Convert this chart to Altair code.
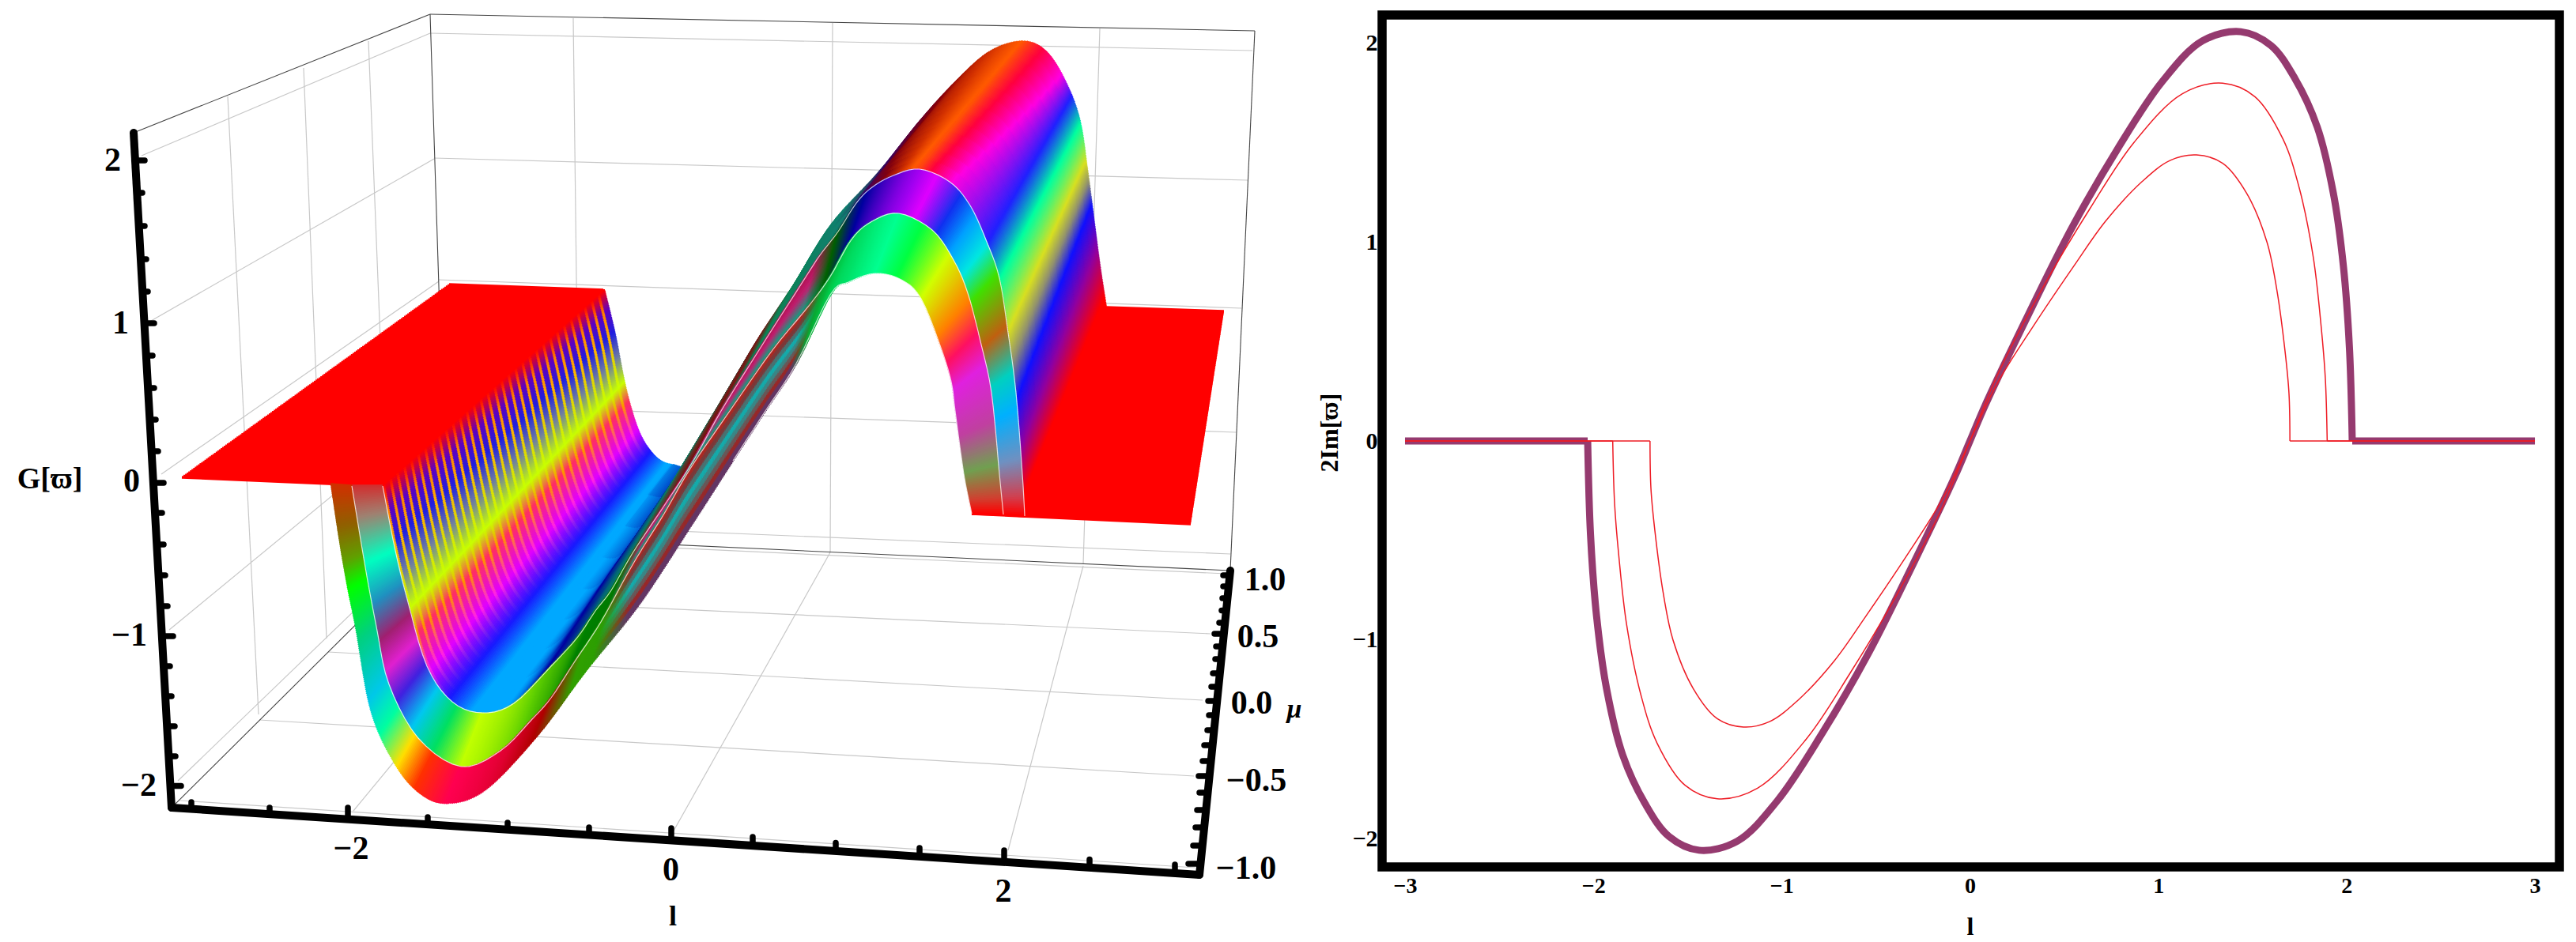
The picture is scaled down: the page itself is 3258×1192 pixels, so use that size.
import altair as alt
import numpy as np
import pandas as pd

alt.data_transformers.disable_max_rows()

SERIF = "Liberation Serif"
PURPLE = "#953a6f"
RED = "#ee1c25"

# ---------- right panel: profiles ----------
OUTER_L = [-2.03,-2.015,-1.983,-1.93,-1.844,-1.726,-1.598,-1.438,-1.235,-1.021,-0.786,-0.54,-0.295,-0.081,0,0.081,0.295,0.54,0.786,1.021,1.235,1.438,1.598,1.726,1.844,1.93,1.983,2.015,2.03]
OUTER_G = [0,-0.47,-0.88,-1.245,-1.58,-1.823,-1.99,-2.059,-2.013,-1.808,-1.473,-1.07,-0.606,-0.18,0,0.18,0.606,1.07,1.473,1.808,2.013,2.059,1.99,1.823,1.58,1.245,0.88,0.47,0]
MIDDLE_L = [-1.897,-1.887,-1.865,-1.823,-1.748,-1.662,-1.513,-1.342,-1.128,-0.872,-0.637,-0.38,-0.145,0,0.145,0.38,0.637,0.872,1.128,1.342,1.513,1.662,1.748,1.823,1.865,1.887,1.897]
MIDDLE_G = [0,-0.316,-0.575,-0.925,-1.275,-1.519,-1.732,-1.80,-1.747,-1.503,-1.169,-0.76,-0.33,0,0.33,0.76,1.169,1.503,1.747,1.80,1.732,1.519,1.275,0.925,0.575,0.316,0]
INNER_L = [-1.699,-1.694,-1.673,-1.63,-1.577,-1.47,-1.342,-1.203,-1.064,-0.915,-0.722,-0.551,-0.338,-0.145,0,0.145,0.338,0.551,0.722,0.915,1.064,1.203,1.342,1.47,1.577,1.63,1.673,1.694,1.699]
INNER_G = [0,-0.24,-0.453,-0.758,-1.001,-1.245,-1.397,-1.439,-1.412,-1.306,-1.108,-0.879,-0.58,-0.29,0,0.29,0.58,0.879,1.108,1.306,1.412,1.439,1.397,1.245,1.001,0.758,0.453,0.24,0]
X_TICKS = [-3,-2,-1,0,1,2,3]
Y_TICKS = [-2,-1,0,1,2]

# ---------- left panel: the box and surface as projected on the page ----------
RIB1 = {"wall":[(418,613),(429,686),(439,743),(450,797),(469,900),(498,965),(529,1003),(564,1017)],
        "rise":[(613,1000),(680,930),(740,850),(807,767),(873,667),(927,583),(968,520),(1007,460),(1050,373),(1073,357),(1107,346)],
        "desc":[(1140,354),(1165,378),(1190,440),(1203,483),(1208,520),(1219,600),(1229,650)]}
RIB2 = {"wall":[(445,615),(461,712),(476,793),(492,866),(529,934),(583,970)],
        "rise":[(633,950),(673,910),(697,883),(727,837),(760,787),(793,727),(813,693),(840,650),(873,593),(923,520),(977,443),(1023,387),(1050,350),(1077,303),(1103,280),(1137,270)],
        "desc":[(1179,291),(1206,329),(1224,371),(1240,432),(1254,497),(1264,600),(1269,651)]}
RIB3 = {"wall":[(484,615),(500,697),(516,762),(540,843),(572,888),(610,902)],
        "rise":[(650,890),(697,843),(730,807),(753,773),(773,747),(800,700),(840,640),(877,583),(912,520),(960,443),(1013,360),(1037,323),(1060,293),(1083,257),(1103,237),(1130,222),(1163,214)],
        "desc":[(1201,230),(1227,260),(1248,306),(1264,352),(1275,421),(1285,497),(1293,600),(1296,653)]}
RIB4 = {"wall":[(765,367),(778,421),(789,478),(799,518),(810,549),(823,570),(837,583),(853,588)],
        "rise":[(873,588),(893,550),(910,520),(953,440),(1007,357),(1053,283),(1113,217),(1167,150),(1213,100),(1253,65),(1293,52)],
        "desc":[(1322,63),(1346,99),(1365,149),(1375,214),(1383,276),(1391,337),(1399,389)]}

PLANE_L = [(230,604),(568,360),(484,615),(765,367)]
PLANE_R = [(1229,650),(1399,389),(1506,663),(1548,394)]

STOPS_C_A = [(1.00,1.00,"#ff0000"),(1.10,1.10,"#ff8000"),(1.22,1.22,"#ffb000"),(1.35,1.35,"#e0d800"),(1.48,1.48,"#c8ff00"),(1.58,1.58,"#ff9000"),(1.73,1.73,"#ff20e8"),
             (1.86,1.86,"#1818ff"),(1.96,1.96,"#00a8ff"),(2.04,1.98,"#00a8ff"),(2.12,2.04,"#0000a0"),(2.2,2.1,"#006080"),(2.3,2.2,"#108060"),(2.45,2.3,"#801010"),
             (2.6,2.38,"#108050"),(2.85,2.55,"#108070"),(2.92,2.68,"#400060"),(2.95,2.82,"#800010"),(2.975,2.94,"#d03000"),(2.99,3.0,"#ff5a00"),(3.03,3.08,"#ff0040"),(3.09,3.19,"#ff00e0"),
             (3.28,3.27,"#2020ff"),(3.38,3.37,"#00ffa0"),(3.52,3.5,"#d8e020"),(3.6,3.57,"#909070"),(3.70,3.65,"#1010ff"),(3.83,3.8,"#9000a0"),(3.95,3.97,"#ff0000"),(4.0,4.0,"#ff0000")]
STOPS_C_B = [(1.00,1.00,"#ff0000"),(1.10,1.10,"#6000c0"),(1.22,1.22,"#2020e0"),(1.35,1.35,"#7080a0"),(1.48,1.48,"#c8ff00"),(1.58,1.58,"#ff3060"),(1.73,1.73,"#e000ff"),
             (1.86,1.86,"#1818ff"),(1.96,1.96,"#00a8ff"),(2.04,1.98,"#00a8ff"),(2.12,2.04,"#0000a0")]
STOPS_B = [(1.0,"#d03030"),(1.1,"#a08070"),(1.25,"#00ffc0"),(1.38,"#2090c0"),(1.5,"#a02070"),(1.6,"#e020d0"),(1.7,"#4020e0"),(1.8,"#00c8f0"),(1.9,"#00e060"),(2.0,"#c0ff00"),
           (2.1,"#60d000"),(2.22,"#008000"),(2.85,"#006000"),(2.92,"#0000a0"),(3.0,"#a000f0"),(3.05,"#e000ff"),(3.13,"#1030f0"),(3.2,"#00a0ff"),(3.28,"#00e8e0"),(3.36,"#40e000"),
           (3.5,"#c06010"),(3.62,"#00d0c0"),(3.72,"#00b0ff"),(3.85,"#7090c0"),(3.95,"#d04050"),(4.0,"#ff0000")]
STOPS_A = [(1.0,"#d03000"),(1.12,"#906000"),(1.22,"#60a000"),(1.3,"#00ff00"),(1.45,"#00d080"),(1.62,"#00c8e8"),(1.72,"#00ffa0"),(1.82,"#ffe000"),(1.9,"#ff3000"),(2.0,"#ff0050"),
           (2.08,"#e00030"),(2.16,"#b00000"),(2.25,"#30a000"),(2.8,"#109020"),(2.93,"#00d050"),(3.0,"#00ff90"),(3.08,"#00ff40"),(3.2,"#d0ff00"),(3.35,"#ff8000"),(3.45,"#ff1060"),
           (3.55,"#e020e0"),(3.72,"#c040a0"),(3.85,"#70a050"),(3.95,"#d04030"),(4.0,"#ff0000")]
ACROSS_A = [(0,"#1060c0"),(0.12,"#b01010"),(0.55,"#10b0b0"),(0.9,"#a01010"),(1,"#c05040")]
ACROSS_B = [(0,"#10a080"),(0.5,"#c02070"),(1,"#b01050")]

GRID = [((544,42),(1584,64)),((549,200),(1578,228)),((555,354),(1570,390)),((560,512),(1563,547)),((565,660),(1556,701)),
        ((725,23),(733,680)),((1053,29),(1050,699)),((1391,36),(1370,714)),
        ((179,197),(544,42)),((191,406),(549,201)),((204,600),(555,356)),((214,797),(560,512)),((225,988),(565,660)),
        ((288,122),(327,904)),((384,86),(413,808)),((466,52),(493,732)),
        ((447,1026),(733,680)),((851,1053),(1050,699)),((1275,1076),(1370,716)),
        ((328,911),(1510,982)),((415,825),(1521,886)),((488,754),(1531,802)),((565,680),(1551,726)),((228,1013),(1512,1098))]
BOX = [((169,168),(544,18)),((544,18),(1587,39)),((1587,39),(1556,722)),((544,18),(565,676)),((217,1022),(565,676)),((565,676),(1556,722))]
AXES = [((169,168),(217,1022)),((217,1022),(1517,1107)),((1517,1107),(1556,722))]

G_TIPS = [(183,203,1),(180,244,0),(183,286,0),(185,328,0),(187,369,0),(195,409,1),(193,450,0),(195,491,0),(197,531,0),(200,571,0),(207,611,1),(205,649,0),(207,689,0),(209,728,0),(212,767,0),(219,805,1),(215,843,0),(217,881,0),(221,919,0),(222,957,0),(229,994.5,1)]
L_TIPS = [(242,1015,0),(341,1022,0),(440,1022,1),(541,1034,0),(642,1041,0),(745,1047,0),(849,1048,1),(952,1059,0),(1057,1066.5,0),(1163,1073,0),(1270,1076,1),(1378,1087.5,0),(1486,1094,0)]
MU_TIPS = [(1547,728,0),(1547,742,0),(1546,757,0),(1545,772.5,0),(1542,788,0),(1536,802,1),(1538,818,0),(1537,834,0),(1534,852,0),(1532,869,0),(1528,887,1),(1529,905,0),(1527,924,0),(1523,943,0),(1521,963,0),(1516,982,1),(1517,1003,0),(1514,1025,0),(1512,1047,0),(1509,1070,0),(1503,1093,1)]

LABELS = [("2",153,203,42),("1",163,409,42),("0",177,609,42),("\u22121",186,804,42),("\u22122",198,994,42)]
LABELS_C = [("\u22122",444,1074,42),("0",848.5,1101,42),("2",1269,1128,42),("1.0",1600,733.5,42),("0.5",1591,806,42),("0.0",1583,890,42),("\u22120.5",1589,988,42),("\u22121.0",1576,1099,42)]


def hex2rgb(h):
    return np.array([int(h[i:i+2], 16) for i in (1, 3, 5)], float)


def rgb2hex(c):
    return "#%02x%02x%02x" % tuple(int(round(min(255, max(0, v)))) for v in c)


def dense(rib):
    pts = np.array(rib["wall"] + rib["rise"] + rib["desc"], float)
    knots = [0, len(rib["wall"]) - 1, len(rib["wall"]) + len(rib["rise"]) - 1, len(pts) - 1]
    out = []
    n = 10
    for i in range(len(pts) - 1):
        p0 = pts[max(i - 1, 0)]; p1 = pts[i]; p2 = pts[i + 1]; p3 = pts[min(i + 2, len(pts) - 1)]
        for k in range(n):
            t = k / n
            out.append(0.5 * (2 * p1 + (p2 - p0) * t + (2 * p0 - 5 * p1 + 4 * p2 - p3) * t * t + (3 * p1 - p0 - 3 * p2 + p3) * t ** 3))
    out.append(pts[-1])
    return np.array(out), [k * n for k in knots]


def at_u(d, u):
    """position on a rib; u runs 1-2 wall, 2-3 rise, 3-4 descent, by arc length inside each."""
    arr, kn = d
    res = np.zeros((len(u), 2))
    for s in range(3):
        seg = arr[kn[s]:kn[s + 1] + 1]
        ds = np.r_[0, np.cumsum(np.hypot(*np.diff(seg, axis=0).T))]
        m = (u >= s + 1) & (u <= s + 2)
        f = (u[m] - s - 1) * ds[-1]
        res[m, 0] = np.interp(f, ds, seg[:, 0])
        res[m, 1] = np.interp(f, ds, seg[:, 1])
    return res


def section_len(d, s):
    arr, kn = d
    seg = arr[kn[s]:kn[s + 1] + 1]
    return np.hypot(*np.diff(seg, axis=0).T).sum()


def pick(stops, u, v):
    pos = [a + (b - a) * v for a, b, _ in stops]
    cols = [hex2rgb(c) for _, _, c in stops]
    return np.array([np.interp(u, pos, [c[i] for c in cols]) for i in range(3)])


def pick1(stops, x):
    pos = [s[0] for s in stops]
    cols = [hex2rgb(s[1]) for s in stops]
    return np.array([np.interp(x, pos, [c[i] for c in cols]) for i in range(3)])


D = [dense(r) for r in (RIB1, RIB2, RIB3, RIB4)]
rows = []


def add(x, y, x2, y2, c):
    rows.append((round(float(x), 1), round(float(y), 1), round(float(x2), 1), round(float(y2), 1), c))


# red planes
for a, b, c, d in (PLANE_L, PLANE_R):
    a, b, c, d = map(lambda p: np.array(p, float), (a, b, c, d))
    n = int(max(np.hypot(*(b - a)), np.hypot(*(d - c))) / 2.5) + 1
    for t in np.linspace(0, 1, n):
        p = a + (b - a) * t
        q = c + (d - c) * t
        add(p[0], p[1], q[0], q[1], "#ff0000")

# ribbon C: rib 3 to rib 4
for s in range(3):
    n = int(max(section_len(D[2], s), section_len(D[3], s)) / 2.5)
    us = np.linspace(s + 1, s + 2, n)
    pa = at_u(D[2], us)
    pb = at_u(D[3], us)
    for k, u in enumerate(us):
        if s == 0 and u < 1.96:
            cells = 96
        elif s == 2 or u > 2.7:
            cells = 14
        else:
            cells = 8
        for j in range(cells):
            v0 = j / cells
            v1 = min(1, (j + 1.15) / cells)
            vm = (j + 0.5) / cells
            col = pick(STOPS_C_A, u, vm)
            if s == 0 and u < 1.96 and j % 3 != 0:
                col = pick(STOPS_C_B, u, vm)
            p = pa[k] + (pb[k] - pa[k]) * v0
            q = pa[k] + (pb[k] - pa[k]) * v1
            add(p[0], p[1], q[0], q[1], rgb2hex(col))

# ribbons B and A
for (ia, ib, stops, across) in ((1, 2, STOPS_B, ACROSS_B), (0, 1, STOPS_A, ACROSS_A)):
    for s in range(3):
        n = int(max(section_len(D[ia], s), section_len(D[ib], s)) / 2.5)
        us = np.linspace(s + 1, s + 2, n)
        pa = at_u(D[ia], us)
        pb = at_u(D[ib], us)
        for k, u in enumerate(us):
            base = pick1(stops, u)
            w = 0.0
            if 2.3 < u < 2.85:
                w = min(1.0, (u - 2.3) / 0.08, (2.85 - u) / 0.05)
            cells = 8 if w > 0 else 1
            for j in range(cells):
                vm = (j + 0.5) / cells
                col = base * (1 - w) + pick1(across, vm) * w
                p = pa[k] + (pb[k] - pa[k]) * (j / cells)
                q = pa[k] + (pb[k] - pa[k]) * min(1, (j + 1.15) / cells)
                add(p[0], p[1], q[0], q[1], rgb2hex(col))

surface = pd.DataFrame(rows, columns=["x", "y", "x2", "y2", "c"])

white = []
for name, d in zip(["r1", "r2", "r3"], D[:3]):
    arr = d[0]
    start = 0
    if name == "r1":
        start = d[1][1] + 60  # the front rim carries the white line only across its arch
    for i, p in enumerate(arr[start:][::2]):
        white.append((name, i, round(p[0], 1), round(p[1], 1)))
white = pd.DataFrame(white, columns=["r", "i", "x", "y"])

sx = alt.Scale(domain=[8, 1700], nice=False, zero=False)
sy = alt.Scale(domain=[1097, 19], nice=False, zero=False)
X = lambda f="x": alt.X(f + ":Q", scale=sx, axis=None)
Y = lambda f="y": alt.Y(f + ":Q", scale=sy, axis=None)


def segs(lst):
    return pd.DataFrame([(a[0], a[1], b[0], b[1]) for a, b in lst], columns=["x", "y", "x2", "y2"])


def rule_layer(df, **kw):
    return alt.Chart(df).mark_rule(**kw).encode(x=X(), y=Y(), x2="x2:Q", y2="y2:Q")


def ticks(tips, axis_a, axis_b, use_y):
    out = []
    a = np.array(axis_a, float)
    b = np.array(axis_b, float)
    for x, y, major in tips:
        t = (y - a[1]) / (b[1] - a[1]) if use_y else (x - a[0]) / (b[0] - a[0])
        p = a + (b - a) * t
        out.append((p[0], p[1], x, y))
    return pd.DataFrame(out, columns=["x", "y", "x2", "y2"])


tick_df = pd.concat([ticks(G_TIPS, *AXES[0], True), ticks(L_TIPS, *AXES[1], False), ticks(MU_TIPS, *AXES[2], True)])

left_layers = [
    rule_layer(segs(GRID), color="#c8c8c8", strokeWidth=1.2),
    rule_layer(segs(BOX), color="#444444", strokeWidth=1.1),
    alt.Chart(surface).mark_rule(strokeWidth=3.4).encode(x=X(), y=Y(), x2="x2:Q", y2="y2:Q", color=alt.Color("c:N", scale=None)),
    alt.Chart(white).mark_line(color="#ffffff", strokeWidth=1.2, opacity=0.75).encode(x=X(), y=Y(), detail="r:N", order="i:Q"),
    rule_layer(tick_df, color="black", strokeWidth=7.5, strokeCap="round"),
    rule_layer(segs(AXES), color="black", strokeWidth=10, strokeCap="round"),
]


def text_layer(items, align, **kw):
    df = pd.DataFrame(items, columns=["t", "x", "y", "s"])
    return alt.Chart(df).mark_text(font=SERIF, fontWeight="bold", align=align, baseline="middle", fontSize=int(df["s"].iloc[0]), **kw).encode(x=X(), y=Y(), text="t:N")


left_layers += [
    text_layer(LABELS, "right"),
    text_layer(LABELS_C, "center"),
    text_layer([("G[\u03d6]", 63, 607, 38)], "center"),
    text_layer([("l", 851, 1159.5, 36)], "center"),
    text_layer([("\u03bc", 1637, 898, 34)], "center", fontStyle="italic"),
]
left = alt.layer(*left_layers).properties(width=1692, height=1078)

# ---------- right panel ----------
xs = alt.Scale(domain=[-3.1217, 3.13], nice=False, zero=False)
ys = alt.Scale(domain=[-2.143, 2.143], nice=False, zero=False)
x_axis = alt.Axis(values=X_TICKS, format="d", grid=False, domain=False, ticks=False, labelFont=SERIF, labelFontWeight="bold", labelFontSize=28,
                  labelPadding=10, labelColor="black", title="l", titleFont=SERIF, titleFontWeight="bold", titleFontSize=32, titleColor="black", titleX=743.5, titleY=60)
y_axis = alt.Axis(values=Y_TICKS, format="d", grid=False, domain=False, ticks=False, labelFont=SERIF, labelFontWeight="bold", labelFontSize=30,
                  labelPadding=6, labelColor="black", title="2Im[\u03d6]", titleFont=SERIF, titleFontWeight="bold", titleFontSize=32, titleColor="black", titleX=-50, titleY=528)


def curve(ls, gs):
    return pd.DataFrame({"l": ls, "g": gs, "i": range(len(ls))})


def flats(edge_l, edge_r):
    return pd.DataFrame({"l": [-3, edge_l, edge_r, 3], "g": [0, 0, 0, 0], "p": ["a", "a", "b", "b"]})


R_X = alt.X("l:Q", scale=xs, axis=x_axis)
R_Y = alt.Y("g:Q", scale=ys, axis=y_axis)

right_layers = []
right_layers.append(alt.Chart(flats(OUTER_L[0], OUTER_L[-1])).mark_line(color=PURPLE, strokeWidth=9).encode(x=R_X, y=R_Y, detail="p:N"))
right_layers.append(alt.Chart(curve(OUTER_L, OUTER_G)).mark_line(color=PURPLE, strokeWidth=9, interpolate="catmull-rom").encode(x=R_X, y=R_Y, order="i:Q"))
for ls, gs in ((MIDDLE_L, MIDDLE_G), (INNER_L, INNER_G)):
    right_layers.append(alt.Chart(flats(ls[0], ls[-1])).mark_line(color=RED, strokeWidth=1.6).encode(x=R_X, y=R_Y, detail="p:N"))
    right_layers.append(alt.Chart(curve(ls, gs)).mark_line(color=RED, strokeWidth=1.5, interpolate="catmull-rom").encode(x=R_X, y=R_Y, order="i:Q"))

right = alt.layer(*right_layers).properties(width=1489, height=1078, view=alt.ViewBackground(stroke="black", strokeWidth=11.5))

chart = alt.hconcat(left, right, spacing=48, bounds="flush").properties(padding={"left": 0, "top": 5, "right": 0, "bottom": 0}, background="white").configure_view(strokeWidth=0)

chart.save("out.html", embed_options={"renderer": "svg", "actions": False})
